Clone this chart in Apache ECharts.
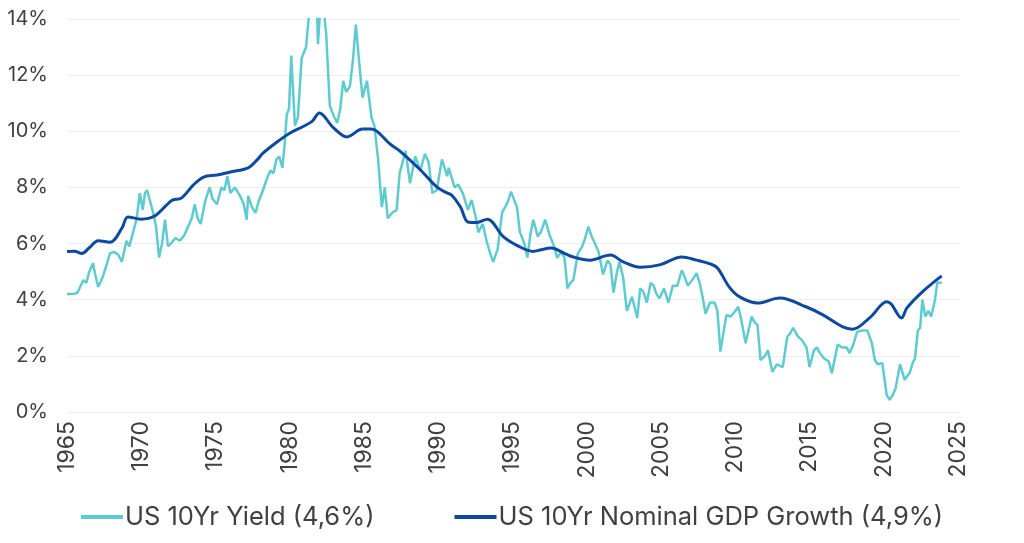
<!DOCTYPE html>
<html><head><meta charset="utf-8">
<script src="https://cdn.jsdelivr.net/npm/echarts@6/dist/echarts.min.js"></script>
<style>html,body{margin:0;padding:0;background:#fff}#c{width:1024px;height:543px}</style>
</head><body><div id="c"></div>
<script>
const seriesNames = ['US 10Yr Yield (4,6%)', 'US 10Yr Nominal GDP Growth (4,9%)'];
const yTicks = [0, 2, 4, 6, 8, 10, 12, 14];
const xTicks = [1965, 1970, 1975, 1980, 1985, 1990, 1995, 2000, 2005, 2010, 2015, 2020, 2025];

const yieldDates = [1965.0,1965.4,1965.7,1966.1,1966.3,1966.5,1966.75,1966.9,1967.1,1967.4,1967.7,1967.9,1968.2,1968.45,1968.7,1969.0,1969.2,1969.45,1969.7,1969.9,
1970.1,1970.25,1970.4,1970.6,1970.8,1971.0,1971.2,1971.4,1971.6,1971.8,1972.0,1972.3,1972.6,1972.9,1973.15,1973.4,1973.6,1973.8,1974.0,1974.3,1974.6,1974.8,
1975.1,1975.4,1975.6,1975.8,1976.0,1976.3,1976.65,1976.9,1977.1,1977.2,1977.45,1977.7,1977.9,1978.2,1978.45,1978.7,1978.9,1979.1,1979.3,1979.5,1979.65,1979.8,1979.95,
1980.1,1980.35,1980.55,1980.8,1981.1,1981.35,1981.6,1981.8,1981.9,1982.1,1982.25,1982.45,1982.7,1983.0,1983.2,1983.4,1983.6,1983.8,1984.05,1984.25,1984.45,1984.65,1984.9,
1985.2,1985.5,1985.7,1985.95,1986.2,1986.4,1986.6,1986.9,1987.2,1987.4,1987.6,1987.8,1988.1,1988.45,1988.8,1989.1,1989.35,1989.6,1989.9,
1990.25,1990.6,1990.7,1991.1,1991.35,1991.65,1992.0,1992.25,1992.5,1992.7,1993.0,1993.25,1993.5,1993.7,1994.0,1994.3,1994.5,1994.7,1994.9,
1995.3,1995.5,1995.8,1996.0,1996.2,1996.4,1996.7,1996.9,1997.2,1997.5,1997.8,1998.0,1998.3,1998.5,1998.7,1998.9,1999.1,1999.4,1999.7,1999.9,
2000.1,2000.3,2000.55,2000.8,2001.1,2001.4,2001.6,2001.8,2002.0,2002.2,2002.45,2002.7,2003.05,2003.4,2003.6,2003.8,2004.05,2004.3,2004.5,2004.7,2004.9,
2005.2,2005.5,2005.8,2006.1,2006.4,2006.6,2006.8,2007.1,2007.4,2007.6,2007.8,2008.0,2008.3,2008.6,2008.8,2009.0,2009.2,2009.4,2009.7,
2010.0,2010.2,2010.4,2010.7,2011.1,2011.3,2011.5,2011.7,2012.0,2012.2,2012.5,2012.8,2013.2,2013.5,2013.7,2013.9,2014.2,2014.5,2014.8,
2015.0,2015.3,2015.5,2015.7,2016.0,2016.3,2016.5,2016.9,2017.2,2017.5,2017.7,2017.95,2018.2,2018.5,2018.9,2019.2,2019.4,2019.6,2019.9,
2020.2,2020.4,2020.6,2020.8,2021.1,2021.4,2021.75,2021.95,2022.1,2022.3,2022.45,2022.6,2022.8,2023.0,2023.2,2023.45,2023.6,2023.9];
const yieldValues = [4.2,4.2,4.25,4.7,4.6,5.0,5.3,4.9,4.45,4.8,5.3,5.66,5.7,5.6,5.35,6.1,5.9,6.4,6.9,7.8,
7.2,7.8,7.9,7.5,7.1,6.6,5.5,6.0,6.85,5.9,6.0,6.2,6.1,6.3,6.6,6.9,7.4,6.9,6.7,7.5,8.0,7.6,
7.4,8.0,7.9,8.4,7.8,8.0,7.7,7.4,6.85,7.7,7.3,7.1,7.5,7.9,8.3,8.6,8.5,9.0,9.1,8.7,9.5,10.6,10.8,
12.7,10.2,10.5,12.6,13.0,14.5,15.5,15.0,13.1,14.8,14.5,13.5,10.9,10.5,10.3,10.8,11.8,11.4,11.6,12.5,13.8,12.6,11.2,
11.8,10.5,10.2,9.0,7.3,8.0,6.9,7.1,7.2,8.5,8.9,9.3,8.15,9.1,8.6,9.2,8.9,7.8,7.9,
9.0,8.4,8.7,8.0,8.1,7.8,7.2,7.55,7.0,6.4,6.7,6.1,5.65,5.35,5.8,7.1,7.3,7.5,7.85,
7.3,6.4,6.0,5.5,6.3,6.85,6.25,6.4,6.85,6.3,5.9,5.5,5.7,5.5,4.4,4.6,4.7,5.65,5.9,6.2,
6.6,6.3,6.0,5.7,4.9,5.4,5.25,4.25,4.9,5.35,4.8,3.6,4.1,3.35,4.4,4.3,3.9,4.6,4.5,4.2,4.05,
4.4,3.9,4.5,4.5,5.05,4.8,4.5,4.7,4.95,4.6,4.1,3.5,3.9,3.9,3.6,2.15,2.8,3.45,3.4,
3.6,3.75,3.3,2.45,3.4,3.2,3.1,1.85,2.0,2.2,1.43,1.7,1.6,2.68,2.8,3.0,2.7,2.55,2.3,
1.6,2.2,2.3,2.1,1.9,1.8,1.38,2.4,2.3,2.3,2.1,2.4,2.85,2.9,2.9,2.45,1.85,1.7,1.75,
0.6,0.43,0.6,0.85,1.7,1.15,1.4,1.75,1.9,2.9,3.0,4.0,3.4,3.6,3.4,4.0,4.6,4.6];

const gdpDates = [1965.0,1965.5,1966.0,1966.5,1967.1,1967.9,1968.7,1969.1,1970.0,1970.9,1971.7,1972.1,1972.7,1973.5,1974.2,1975.1,1976.0,1977.2,1977.8,1978.2,1979.1,
1980.0,1980.9,1981.5,1982.0,1982.9,1983.85,1984.9,1985.5,1985.9,1986.75,1987.4,1988.8,1989.9,1990.6,1990.9,1991.5,1992.0,1992.6,1993.3,1994.4,1995.5,1996.4,1996.85,1997.6,1998.5,1999.1,
2000.2,2001.6,2002.45,2003.6,2004.9,2006.4,2007.4,2008.3,2008.8,2009.6,2010.3,2011.5,2013.0,2014.8,2015.9,2017.25,2017.9,2019.1,2020.2,2020.5,2021.2,2021.55,2022.6,2023.9];
const gdpValues = [5.72,5.73,5.65,5.85,6.1,6.05,6.55,6.95,6.87,6.98,7.37,7.55,7.62,8.08,8.37,8.44,8.55,8.7,8.98,9.22,9.6,
9.93,10.17,10.35,10.65,10.15,9.8,10.08,10.08,9.99,9.55,9.3,8.62,8.02,7.8,7.73,7.3,6.77,6.75,6.87,6.24,5.88,5.72,5.77,5.84,5.65,5.52,
5.41,5.59,5.35,5.16,5.24,5.52,5.41,5.28,5.13,4.45,4.1,3.88,4.06,3.74,3.46,3.03,2.95,3.38,3.93,3.85,3.35,3.7,4.28,4.85];

const pair = (xs, ys) => xs.map((x, i) => [x, ys[i]]);
const FONT = 'Inter';
const chart = echarts.init(document.getElementById('c'), null, {renderer: 'canvas'});
chart.setOption({
  animation: false,
  backgroundColor: '#fff',
  grid: {left: 67, right: 66, top: 19, bottom: 131, containLabel: false},
  legend: {
    bottom: 8, left: 'center',
    itemWidth: 42, itemHeight: 4, itemGap: 80, icon: 'rect',
    textStyle: {fontFamily: FONT, fontSize: 25.5, color: '#404040', padding: [0, 0, 0, -3]},
    data: seriesNames
  },
  xAxis: {
    type: 'value', min: xTicks[0], max: xTicks[xTicks.length - 1], interval: 5,
    axisLine: {show: false}, axisTick: {show: false},
    splitLine: {show: false},
    axisLabel: {rotate: 90, margin: 9, fontFamily: FONT, fontSize: 23, color: '#404040', formatter: v => String(v)}
  },
  yAxis: {
    type: 'value', min: yTicks[0], max: yTicks[yTicks.length - 1], interval: 2,
    axisLine: {show: false}, axisTick: {show: false},
    splitLine: {lineStyle: {color: '#eeeeee', width: 1}},
    axisLabel: {margin: 19, fontFamily: FONT, fontSize: 20, color: '#404040', formatter: v => v + '%'}
  },
  series: [
    {name: seriesNames[0], type: 'line', data: pair(yieldDates, yieldValues), showSymbol: false, clip: true,
     lineStyle: {color: '#5ecbd0', width: 2.5}, itemStyle: {color: '#5ecbd0'}, z: 2},
    {name: seriesNames[1], type: 'line', data: pair(gdpDates, gdpValues), showSymbol: false, smooth: 0.35, clip: true,
     lineStyle: {color: '#0b4a9e', width: 3}, itemStyle: {color: '#0b4a9e'}, z: 3}
  ]
});
</script></body></html>
